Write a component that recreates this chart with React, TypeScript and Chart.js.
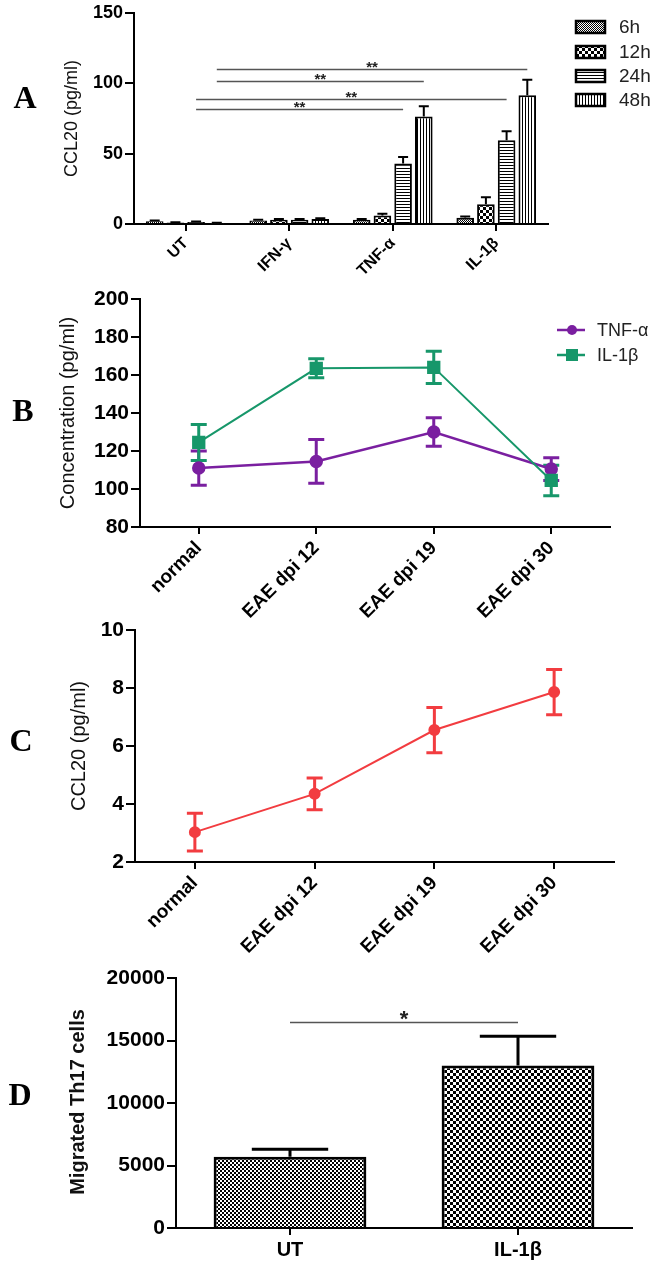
import React, { useEffect, useRef } from 'react';
import { Chart, registerables } from 'chart.js';
Chart.register(...registerables);

// ---------- Panel A data ----------
const catsA = ['UT', 'IFN-γ', 'TNF-α', 'IL-1β'];
const namesA = ['6h', '12h', '24h', '48h'];
const a6h = [2.0, 2.5, 3.0, 4.5];
const a12h = [1.0, 3.0, 6.0, 14.0];
const a24h = [1.5, 3.0, 43.0, 59.5];
const a48h = [0.5, 3.5, 76.5, 91.5];
const a6hErr = [0.5, 0.6, 0.6, 0.8];
const a12hErr = [0.3, 0.6, 1.2, 5.0];
const a24hErr = [0.3, 0.5, 4.7, 6.5];
const a48hErr = [0.3, 0.6, 7.2, 11.0];
const ticksA = [0, 50, 100, 150];
// significance: [category, series] -> [category, series] at value y
const sigA = [
  { from: [0, 3], to: [3, 3], y: 110.5, label: '**' },
  { from: [0, 3], to: [2, 3], y: 102, label: '**' },
  { from: [0, 2], to: [3, 2], y: 89, label: '**' },
  { from: [0, 2], to: [2, 2], y: 81.5, label: '**' },
];

// ---------- Panel B data ----------
const catsB = ['normal', 'EAE dpi 12', 'EAE dpi 19', 'EAE dpi 30'];
const namesB = ['TNF-α', 'IL-1β'];
const tnfB = [111, 114.5, 130, 110.5];
const tnfBErr = [9, 11.5, 7.5, 6];
const il1bB = [124.5, 163.5, 164, 104.5];
const il1bBErr = [9.5, 5, 8.5, 8];

// ---------- Panel C data ----------
const catsC = ['normal', 'EAE dpi 12', 'EAE dpi 19', 'EAE dpi 30'];
const ccl20C = [3.03, 4.35, 6.55, 7.86];
const ccl20CErr = [0.65, 0.55, 0.78, 0.78];

// ---------- Panel D data ----------
const catsD = ['UT', 'IL-1β'];
const th17D = [5700, 13000];
const th17DErr = [600, 2350];
const sigD = [{ from: [0, 0], to: [1, 0], y: 16500, label: '*' }];

const SANS = "'Liberation Sans', Arial, sans-serif";
const SERIF = "'Liberation Serif', 'Times New Roman', serif";

function makePattern(kind: string): CanvasPattern {
  const c = document.createElement('canvas');
  const x = c.getContext('2d')!;
  if (kind === 'fine') {
    c.width = 2; c.height = 2;
    x.fillStyle = '#fff'; x.fillRect(0, 0, 2, 2);
    x.fillStyle = '#000'; x.fillRect(0, 0, 1, 1); x.fillRect(1, 1, 1, 1);
  } else if (kind === 'check2') {
    c.width = 4; c.height = 4;
    x.fillStyle = '#fff'; x.fillRect(0, 0, 4, 4);
    x.fillStyle = '#000'; x.fillRect(0, 0, 2, 2); x.fillRect(2, 2, 2, 2);
  } else if (kind === 'check3') {
    c.width = 6; c.height = 6;
    x.fillStyle = '#fff'; x.fillRect(0, 0, 6, 6);
    x.fillStyle = '#000'; x.fillRect(0, 0, 3, 3); x.fillRect(3, 3, 3, 3);
  } else if (kind === 'hlines') {
    c.width = 3; c.height = 3;
    x.fillStyle = '#fff'; x.fillRect(0, 0, 3, 3);
    x.fillStyle = '#000'; x.fillRect(0, 0, 3, 1);
  } else {
    c.width = 3; c.height = 3;
    x.fillStyle = '#fff'; x.fillRect(0, 0, 3, 3);
    x.fillStyle = '#000'; x.fillRect(0, 0, 1, 3);
  }
  return x.createPattern(c, 'repeat')!;
}

const errorBars = {
  id: 'errorBars',
  beforeDatasetsDraw(chart: any) { draw(chart, true); },
  afterDatasetsDraw(chart: any) { draw(chart, false); },
};
function draw(chart: any, before: boolean) {
  const ctx = chart.ctx;
  const ys = chart.scales.y;
  chart.data.datasets.forEach((ds: any, i: number) => {
    if (!ds.errors || !!ds.errBefore !== before) return;
    const meta = chart.getDatasetMeta(i);
    ctx.save();
    ctx.strokeStyle = ds.errColor;
    ctx.lineWidth = ds.errWidth;
    meta.data.forEach((el: any, j: number) => {
      const v = ds.data[j];
      const e = ds.errors[j];
      const x = el.x;
      const yTop = ys.getPixelForValue(v + e);
      const yBot = ds.errBoth ? ys.getPixelForValue(v - e) : ys.getPixelForValue(v);
      const half = ds.capFrac ? (el.width * ds.capFrac) / 2 : ds.capHalf;
      ctx.beginPath();
      ctx.moveTo(x, yBot); ctx.lineTo(x, yTop);
      ctx.moveTo(x - half, yTop); ctx.lineTo(x + half, yTop);
      if (ds.errBoth) { ctx.moveTo(x - half, yBot); ctx.lineTo(x + half, yBot); }
      ctx.stroke();
    });
    ctx.restore();
  });
}

function sigPlugin(lines: any[], font: string, starUp: number, lineColor: string) {
  return {
    id: 'sig',
    afterDatasetsDraw(chart: any) {
      const ctx = chart.ctx;
      const ys = chart.scales.y;
      lines.forEach((s) => {
        const x1 = chart.getDatasetMeta(s.from[1]).data[s.from[0]].x;
        const x2 = chart.getDatasetMeta(s.to[1]).data[s.to[0]].x;
        const y = Math.round(ys.getPixelForValue(s.y)) + 0.5;
        ctx.save();
        ctx.strokeStyle = lineColor; ctx.lineWidth = 1.3;
        ctx.beginPath(); ctx.moveTo(x1, y); ctx.lineTo(x2, y); ctx.stroke();
        ctx.fillStyle = '#222'; ctx.font = font;
        ctx.textAlign = 'center'; ctx.textBaseline = 'alphabetic';
        ctx.fillText(s.label, (x1 + x2) / 2, y + starUp);
        ctx.restore();
      });
    },
  };
}

function decoPlugin(opts: { letter: [number, number]; letterText: string; title: string; titleXY: [number, number]; titleFont: string; extra?: (ctx: CanvasRenderingContext2D) => void }) {
  return {
    id: 'deco',
    afterDraw(chart: any) {
      const ctx: CanvasRenderingContext2D = chart.ctx;
      ctx.save();
      ctx.fillStyle = '#000';
      ctx.font = `bold 32px ${SERIF}`;
      ctx.textAlign = 'center'; ctx.textBaseline = 'middle';
      ctx.fillText(opts.letterText, opts.letter[0], opts.letter[1]);
      ctx.translate(opts.titleXY[0], opts.titleXY[1]);
      ctx.rotate(-Math.PI / 2);
      ctx.font = opts.titleFont;
      ctx.fillStyle = '#111';
      ctx.fillText(opts.title, 0, 0);
      ctx.restore();
      if (opts.extra) { ctx.save(); opts.extra(ctx); ctx.restore(); }
    },
  };
}

function yAxis(min: number, max: number, step: number, width: number, size: number) {
  return {
    type: 'linear', min, max,
    ticks: { stepSize: step, color: '#000', font: { family: SANS, size, weight: 'bold' }, padding: 2, callback: (v: any) => String(v) },
    grid: { drawOnChartArea: false, drawTicks: true, tickLength: 9, color: '#000', lineWidth: 2 },
    border: { display: true, color: '#000', width: 2 },
    afterFit: (s: any) => { s.width = width; },
  };
}
function xAxis(height: number, size: number, rot: number) {
  return {
    type: 'category', offset: true,
    ticks: { color: '#000', font: { family: SANS, size, weight: 'bold' }, minRotation: rot, maxRotation: rot, autoSkip: false, padding: 3 },
    grid: { offset: false, drawOnChartArea: false, drawTicks: true, tickLength: 7, color: '#000', lineWidth: 2 },
    border: { display: true, color: '#000', width: 2 },
    afterFit: (s: any) => { s.height = height; },
  };
}
const basePlugins = { legend: { display: false }, tooltip: { enabled: false } };

function configA() {
  const pats = ['fine', 'check3', 'hlines', 'vlines'].map(makePattern);
  const vals = [a6h, a12h, a24h, a48h];
  const errs = [a6hErr, a12hErr, a24hErr, a48hErr];
  const legendRows = [27, 52, 76, 100];
  return {
    type: 'bar',
    data: {
      labels: catsA,
      datasets: namesA.map((n, i) => ({
        label: n, data: vals[i], backgroundColor: pats[i], borderColor: '#000', borderWidth: 2,
        categoryPercentage: 0.8, barPercentage: 0.85,
        errors: errs[i], errColor: '#000', errWidth: 2, capHalf: 5,
      })),
    },
    options: {
      responsive: false, animation: false,
      layout: { padding: { left: 0, top: 13, right: 116, bottom: 0 } },
      scales: { x: xAxis(66, 16, 45), y: { ...yAxis(0, 150, 50, 134, 18), afterBuildTicks: (s: any) => { s.ticks = ticksA.map((v) => ({ value: v })); } } },
      plugins: basePlugins,
    },
    plugins: [
      errorBars,
      sigPlugin(sigA, `bold 15px ${SANS}`, 2.5, '#555'),
      decoPlugin({
        letter: [25, 100], letterText: 'A', title: 'CCL20 (pg/ml)', titleXY: [72, 118.5], titleFont: `18px ${SANS}`,
        extra: (ctx) => {
          namesA.forEach((n, i) => {
            const y = legendRows[i];
            ctx.fillStyle = pats[i];
            ctx.fillRect(576, y - 6, 29, 12);
            ctx.strokeStyle = '#000'; ctx.lineWidth = 2.5;
            ctx.strokeRect(576, y - 6, 29, 12);
            ctx.fillStyle = '#222'; ctx.font = `19px ${SANS}`;
            ctx.textAlign = 'left'; ctx.textBaseline = 'middle';
            ctx.fillText(n, 619, y + 1);
          });
        },
      }),
    ],
  };
}

const PURPLE = '#7a1fa0';
const GREEN = '#17976a';
const RED = '#f23c40';

function configB() {
  return {
    type: 'line',
    data: {
      labels: catsB,
      datasets: [
        { label: namesB[0], data: tnfB, order: 1, borderColor: PURPLE, backgroundColor: PURPLE, borderWidth: 2.5, pointStyle: 'circle', pointRadius: 5.5,
          errors: tnfBErr, errBoth: true, errBefore: true, errColor: PURPLE, errWidth: 3, capHalf: 8 },
        { label: namesB[1], data: il1bB, order: 0, borderColor: GREEN, backgroundColor: GREEN, borderWidth: 2, pointStyle: 'rect', pointRadius: 8,
          errors: il1bBErr, errBoth: true, errBefore: true, errColor: GREEN, errWidth: 3, capHalf: 8 },
      ],
    },
    options: {
      responsive: false, animation: false,
      layout: { padding: { left: 0, top: 29, right: 54, bottom: 0 } },
      scales: { x: xAxis(93, 19, 45), y: yAxis(80, 200, 20, 140, 21) },
      plugins: basePlugins,
    },
    plugins: [
      errorBars,
      decoPlugin({
        letter: [23, 143], letterText: 'B', title: 'Concentration (pg/ml)', titleXY: [68, 143], titleFont: `20px ${SANS}`,
        extra: (ctx) => {
          const rows = [60, 85];
          const cols = [PURPLE, GREEN];
          rows.forEach((y, i) => {
            ctx.strokeStyle = cols[i]; ctx.fillStyle = cols[i]; ctx.lineWidth = 2.5;
            ctx.beginPath(); ctx.moveTo(557, y); ctx.lineTo(585, y); ctx.stroke();
            if (i === 0) { ctx.beginPath(); ctx.arc(572, y, 5, 0, Math.PI * 2); ctx.fill(); }
            else ctx.fillRect(566, y - 6, 12, 12);
            ctx.fillStyle = '#222'; ctx.font = `18px ${SANS}`;
            ctx.textAlign = 'left'; ctx.textBaseline = 'middle';
            ctx.fillText(namesB[i], 597, y + 1);
          });
        },
      }),
    ],
  };
}

function configC() {
  return {
    type: 'line',
    data: {
      labels: catsC,
      datasets: [
        { label: 'CCL20', data: ccl20C, borderColor: RED, backgroundColor: RED, borderWidth: 2, pointStyle: 'circle', pointRadius: 5,
          errors: ccl20CErr, errBoth: true, errBefore: true, errColor: RED, errWidth: 3, capHalf: 8 },
      ],
    },
    options: {
      responsive: false, animation: false,
      layout: { padding: { left: 0, top: 30, right: 50, bottom: 0 } },
      scales: { x: xAxis(98, 19, 45), y: yAxis(2, 10, 2, 135, 21) },
      plugins: basePlugins,
    },
    plugins: [
      errorBars,
      decoPlugin({ letter: [21, 143], letterText: 'C', title: 'CCL20 (pg/ml)', titleXY: [79, 146], titleFont: `20px ${SANS}` }),
    ],
  };
}

function configD() {
  return {
    type: 'bar',
    data: {
      labels: catsD,
      datasets: [
        { label: 'Migrated Th17 cells', data: th17D, backgroundColor: [makePattern('check2'), makePattern('check3')], borderColor: '#000', borderWidth: 3,
          categoryPercentage: 0.67, barPercentage: 1.0,
          errors: th17DErr, errColor: '#000', errWidth: 3, capFrac: 0.5 },
      ],
    },
    options: {
      responsive: false, animation: false,
      layout: { padding: { left: 0, top: 28, right: 32, bottom: 0 } },
      scales: { x: xAxis(37, 20, 0), y: yAxis(0, 20000, 5000, 176, 21) },
      plugins: basePlugins,
    },
    plugins: [
      errorBars,
      sigPlugin(sigD, `bold 22px ${SANS}`, 3.5, '#555'),
      decoPlugin({ letter: [20, 147], letterText: 'D', title: 'Migrated Th17 cells', titleXY: [78, 152], titleFont: `bold 20px ${SANS}` }),
    ],
  };
}

function Panel({ top, height, make }: { top: number; height: number; make: () => any }) {
  const ref = useRef<HTMLCanvasElement>(null);
  useEffect(() => {
    const chart = new Chart(ref.current as HTMLCanvasElement, make());
    return () => chart.destroy();
  }, []);
  return (
    <canvas ref={ref} width={664} height={height}
      style={{ position: 'absolute', left: 0, top, width: 664, height, display: 'block' }} />
  );
}

export default function App() {
  return (
    <div style={{ position: 'absolute', left: 0, top: 0, width: 664, height: 1265, background: '#fff', overflow: 'hidden' }}>
      <Panel top={0} height={290} make={configA} />
      <Panel top={270} height={350} make={configB} />
      <Panel top={600} height={360} make={configC} />
      <Panel top={950} height={315} make={configD} />
    </div>
  );
}
